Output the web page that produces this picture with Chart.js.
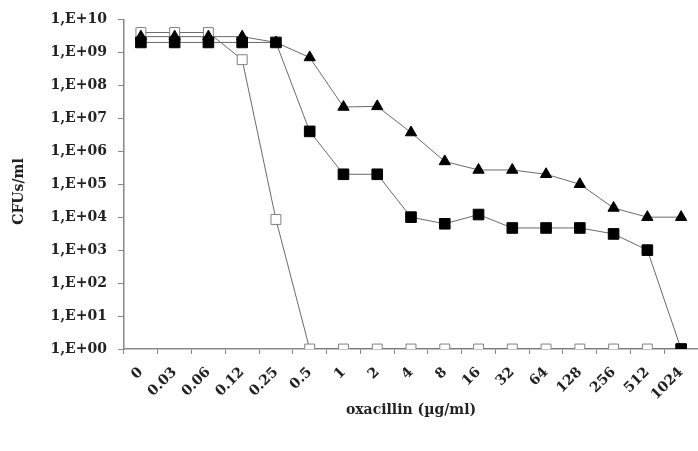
<!DOCTYPE html>
<html>
<head>
<meta charset="utf-8">
<script src="https://cdn.jsdelivr.net/npm/chart.js@4.4.1/dist/chart.umd.min.js"></script>
<style>
html,body{margin:0;padding:0;background:#fff;}
#wrap{width:698px;height:451px;position:relative;}
</style>
</head>
<body>
<div id="wrap"><canvas id="c" width="698" height="451"></canvas></div>
<script>
const categories = ['0','0.03','0.06','0.12','0.25','0.5','1','2','4','8','16','32','64','128','256','512','1024'];
const seriesTriangle = [3e9,3e9,3e9,3e9,2e9,7e8,2.2e7,2.3e7,3.7e6,4.9e5,2.7e5,2.7e5,2e5,1e5,1.9e4,1e4,1e4];
const seriesSquare   = [2e9,2e9,2e9,2e9,2e9,4e6,2e5,2e5,1e4,6.3e3,1.2e4,4.7e3,4.7e3,4.7e3,3.1e3,1e3,1];
const seriesOpen     = [4e9,4e9,4e9,6e8,8.5e3,1,1,1,1,1,1,1,1,1,1,1,1];
const yTickValues = [1,1e1,1e2,1e3,1e4,1e5,1e6,1e7,1e8,1e9,1e10];
const yTitle = 'CFUs/ml   ';
const xTitle = 'oxacillin (µg/ml)';

const fontFam = '"DejaVu Serif", serif';
const lineCol = '#6a6a6a';
const txtFont = { family: fontFam, size: 14, weight: 'bold' };

new Chart(document.getElementById('c'), {
  type: 'line',
  data: {
    labels: categories,
    datasets: [
      {
        data: seriesSquare, borderColor: lineCol, borderWidth: 1,
        pointStyle: 'rect', pointRadius: 7.5, pointBackgroundColor: '#000', pointBorderColor: '#000', pointBorderWidth: 1,
        tension: 0
      },
      {
        data: seriesTriangle, borderColor: lineCol, borderWidth: 1,
        pointStyle: 'triangle', pointRadius: 6.5, pointBackgroundColor: '#000', pointBorderColor: '#000', pointBorderWidth: 1,
        tension: 0
      },
      {
        data: seriesOpen, borderColor: lineCol, borderWidth: 1,
        pointStyle: 'rect', pointRadius: 7, pointBackgroundColor: '#fff', pointBorderColor: '#808080', pointBorderWidth: 1,
        tension: 0
      }
    ]
  },
  options: {
    responsive: false,
    animation: false,
    devicePixelRatio: 1,
    layout: { autoPadding: false, padding: { top: 17, right: 0, left: 0, bottom: 0 } },
    plugins: { legend: { display: false }, tooltip: { enabled: false } },
    elements: { line: { fill: false } },
    scales: {
      x: {
        type: 'category',
        offset: true,
        grid: { offset: true, drawOnChartArea: false, drawTicks: true, tickLength: 5, color: '#888' },
        border: { display: true, color: '#888', width: 1.5 },
        ticks: { minRotation: 45, maxRotation: 45, autoSkip: false, padding: 10, color: '#222', font: txtFont },
        title: { display: true, text: xTitle, color: '#222', font: txtFont, padding: { bottom: 32, top: 0 } },
        afterFit: (s) => { s.height = 102; s.paddingRight = 0; s.paddingLeft = 0; }
      },
      y: {
        type: 'logarithmic',
        min: 1, max: 1e10,
        grid: { drawOnChartArea: false, drawTicks: true, tickLength: 6, color: '#888' },
        border: { display: true, color: '#888', width: 1.5 },
        afterBuildTicks: (s) => { s.ticks = yTickValues.map(v => ({ value: v, major: true })); },
        ticks: {
          padding: 11, color: '#222', font: txtFont,
          callback: (v) => { const e = Math.round(Math.log10(v)); return '1,E+' + (e < 10 ? '0' + e : e); }
        },
        title: { display: true, text: yTitle, color: '#222', font: txtFont, padding: { top: 11, bottom: 0 } },
        afterFit: (s) => { s.width = 124; }
      }
    }
  }
});
</script>
</body>
</html>
